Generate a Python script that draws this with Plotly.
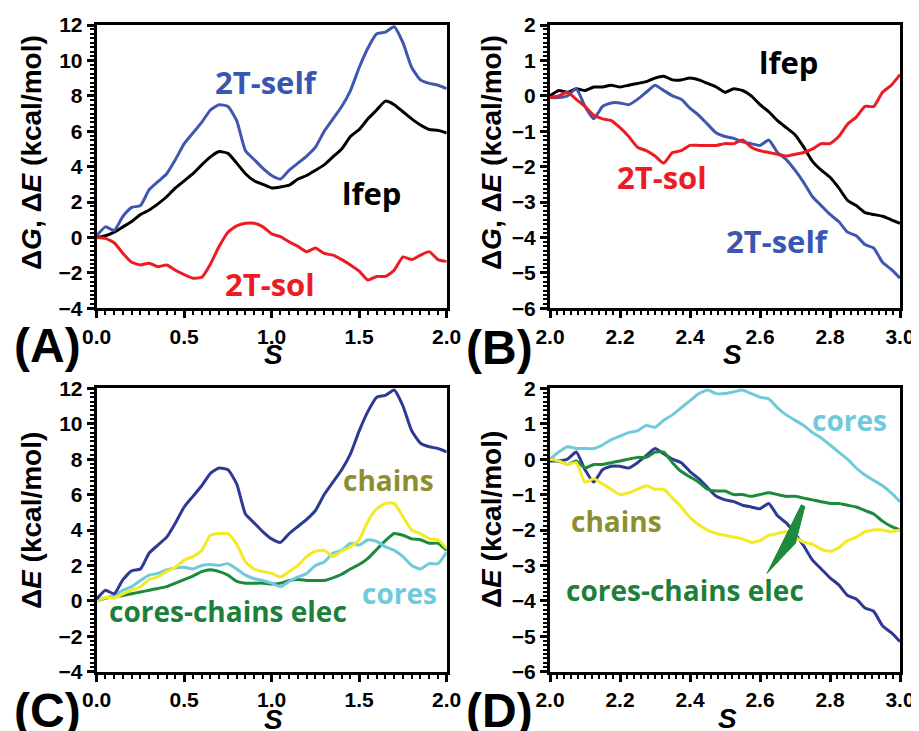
import plotly.graph_objects as go

# ---------------- data ----------------
s_A = [0.00, 0.05, 0.10, 0.15, 0.20, 0.25, 0.30, 0.35, 0.40, 0.45,
       0.50, 0.55, 0.60, 0.65, 0.70, 0.75, 0.80, 0.85, 0.90, 0.95,
       1.00, 1.05, 1.10, 1.15, 1.20, 1.25, 1.30, 1.35, 1.40, 1.45,
       1.50, 1.55, 1.60, 1.65, 1.70, 1.75, 1.80, 1.85, 1.90, 1.95, 2.00]
s_B = [2.000, 2.025, 2.050, 2.075, 2.100, 2.125, 2.150, 2.175, 2.200, 2.225,
       2.250, 2.275, 2.300, 2.325, 2.350, 2.375, 2.400, 2.425, 2.450, 2.475,
       2.500, 2.525, 2.550, 2.575, 2.600, 2.625, 2.650, 2.675, 2.700, 2.725,
       2.750, 2.775, 2.800, 2.825, 2.850, 2.875, 2.900, 2.925, 2.950, 2.975, 3.000]

# Panel A / C (S = 0..2)
self_A = [0.1, 0.6, 0.4, 1.2, 1.7, 1.8, 2.7, 3.15, 3.6, 4.4,
          5.3, 5.9, 6.5, 7.2, 7.5, 7.4, 6.6, 4.9, 4.4, 3.9,
          3.5, 3.3, 3.8, 4.2, 4.6, 5.1, 6.0, 6.7, 7.4, 8.3,
          9.6, 10.7, 11.5, 11.6, 11.9, 11.0, 9.6, 8.9, 8.7, 8.6, 8.4]
lfep_A = [0.0, 0.1, 0.3, 0.6, 0.9, 1.3, 1.55, 1.9, 2.3, 2.8,
          3.2, 3.6, 4.1, 4.55, 4.85, 4.75, 4.2, 3.6, 3.2, 3.0,
          2.8, 2.85, 2.95, 3.3, 3.5, 3.8, 4.1, 4.55, 5.0, 5.7,
          6.1, 6.7, 7.2, 7.7, 7.5, 7.1, 6.7, 6.35, 6.1, 6.05, 5.9]
sol_A = [0.0, -0.05, -0.3, -0.9, -1.4, -1.55, -1.45, -1.65, -1.55, -1.85,
         -2.1, -2.3, -2.25, -1.5, -0.5, 0.3, 0.65, 0.8, 0.8, 0.6,
         0.2, 0.05, -0.25, -0.5, -0.8, -0.6, -0.9, -1.0, -1.25, -1.55,
         -1.9, -2.4, -2.2, -2.2, -1.85, -1.1, -1.25, -1.0, -0.8, -1.25, -1.35]
chains_C = [0.0, 0.2, 0.15, 0.4, 0.6, 0.8, 1.2, 1.35, 1.65, 1.9,
            2.3, 2.5, 2.85, 3.7, 3.8, 3.8, 3.2, 2.2, 1.8, 1.65,
            1.55, 1.35, 1.65, 2.0, 2.5, 2.8, 2.85, 2.5, 2.8, 3.05,
            3.45, 4.5, 5.2, 5.5, 5.5, 4.75, 4.0, 3.8, 3.5, 3.45, 2.95]
cores_C = [0.0, 0.15, 0.3, 0.6, 0.8, 1.15, 1.45, 1.55, 1.75, 1.85,
           1.9, 1.8, 2.0, 2.05, 2.0, 2.1, 1.8, 1.45, 1.25, 1.15,
           1.0, 0.8, 1.1, 1.35, 1.55, 2.0, 2.2, 2.7, 2.85, 3.25,
           3.15, 3.45, 3.35, 3.05, 2.85, 2.5, 2.0, 1.8, 2.1, 2.1, 2.75]
elec_C = [0.0, 0.15, 0.25, 0.3, 0.4, 0.5, 0.6, 0.7, 0.8, 1.0,
          1.2, 1.4, 1.65, 1.75, 1.65, 1.45, 1.1, 1.0, 1.0, 1.0,
          0.95, 1.0, 1.15, 1.2, 1.15, 1.15, 1.15, 1.3, 1.5, 1.8,
          2.05, 2.4, 2.9, 3.4, 3.8, 3.7, 3.5, 3.45, 3.25, 3.25, 2.85]

# Panel B / D (S = 2..3)
self_B = [-0.05, -0.05, 0.0, 0.2, -0.3, -0.65, -0.3, -0.2, -0.2, -0.25,
          -0.1, 0.1, 0.3, 0.15, 0.0, -0.1, -0.35, -0.55, -0.8, -1.05,
          -1.15, -1.2, -1.3, -1.35, -1.4, -1.25, -1.6, -1.8, -2.1, -2.45,
          -2.85, -3.1, -3.35, -3.55, -3.85, -3.95, -4.2, -4.3, -4.7, -4.9, -5.15]
lfep_B = [0.0, 0.15, 0.1, 0.2, 0.15, 0.25, 0.25, 0.3, 0.25, 0.3,
          0.35, 0.4, 0.5, 0.55, 0.45, 0.45, 0.5, 0.45, 0.35, 0.25,
          0.1, 0.2, 0.15, 0.0, -0.25, -0.45, -0.7, -0.9, -1.1, -1.45,
          -1.85, -2.1, -2.3, -2.6, -2.95, -3.1, -3.3, -3.35, -3.4, -3.5, -3.6]
sol_B = [-0.05, 0.0, 0.1, -0.1, -0.3, -0.55, -0.65, -0.7, -0.9, -1.15,
         -1.45, -1.55, -1.7, -1.9, -1.6, -1.55, -1.4, -1.4, -1.4, -1.4,
         -1.35, -1.35, -1.25, -1.45, -1.55, -1.6, -1.65, -1.7, -1.65, -1.6,
         -1.5, -1.35, -1.35, -1.15, -0.8, -0.6, -0.3, -0.3, 0.1, 0.3, 0.6]
cores_D = [0.0, 0.2, 0.35, 0.3, 0.3, 0.3, 0.4, 0.55, 0.65, 0.75,
           0.8, 0.95, 0.9, 1.1, 1.25, 1.45, 1.65, 1.85, 1.95, 1.85,
           1.85, 1.9, 1.95, 1.85, 1.75, 1.7, 1.45, 1.25, 1.1, 0.95,
           0.75, 0.6, 0.4, 0.2, 0.0, -0.25, -0.45, -0.6, -0.75, -0.95, -1.2]
elec_D = [0.0, -0.05, -0.15, -0.05, -0.25, -0.15, -0.15, -0.1, -0.05, 0.0,
          0.05, 0.05, 0.2, 0.2, -0.1, -0.35, -0.5, -0.65, -0.85, -0.9,
          -0.9, -1.0, -1.0, -1.05, -1.0, -0.95, -1.0, -1.05, -1.05, -1.1,
          -1.15, -1.2, -1.25, -1.25, -1.3, -1.35, -1.45, -1.55, -1.75, -1.9, -2.0]
chains_D = [0.0, -0.05, -0.15, -0.1, -0.65, -0.55, -0.7, -0.85, -1.0, -0.95,
            -0.85, -0.75, -0.85, -0.85, -1.1, -1.35, -1.65, -1.85, -2.0, -2.1,
            -2.15, -2.2, -2.25, -2.35, -2.3, -2.15, -2.1, -2.05, -2.2, -2.35,
            -2.4, -2.55, -2.6, -2.5, -2.3, -2.2, -2.05, -2.0, -2.0, -2.05, -2.0]

# ---------------- styling ----------------
BLUE1 = '#3F57AE'
BLUE2 = '#2C3A93'
BLACK = '#000000'
RED = '#EC1C24'
YELLOW = '#F3E924'
CYAN = '#6FCBDC'
GREEN = '#1B8A3B'

# page body margin is 8 px: the figure is drawn 8 px in from the window edge
W, H, OFF = 911, 723, 8


def PX(px):
    return (px - OFF) / W


def PY(py):
    return 1 - (py - OFF) / H


fig = go.Figure()


def add(x, y, color, n):
    fig.add_trace(go.Scatter(x=x, y=y, mode='lines',
                             line=dict(color=color, width=3, shape='spline', smoothing=0.5),
                             xaxis='x' + ('' if n == 1 else str(n)),
                             yaxis='y' + ('' if n == 1 else str(n)),
                             showlegend=False, hoverinfo='skip'))


add(s_A, lfep_A, BLACK, 1)
add(s_A, sol_A, RED, 1)
add(s_A, self_A, BLUE1, 1)

add(s_B, lfep_B, BLACK, 2)
add(s_B, self_B, BLUE1, 2)
add(s_B, sol_B, RED, 2)

add(s_A, elec_C, GREEN, 3)
add(s_A, cores_C, CYAN, 3)
add(s_A, chains_C, YELLOW, 3)
add(s_A, self_A, BLUE2, 3)

add(s_B, cores_D, CYAN, 4)
add(s_B, self_B, BLUE2, 4)
add(s_B, elec_D, GREEN, 4)
add(s_B, chains_D, YELLOW, 4)

TICKFONT = dict(family='Liberation Sans, Arial', size=21, color='black', weight=700)


def axis(domain, rng, dtick, minor, anchor, fmt=None):
    d = dict(domain=domain, range=rng, dtick=dtick, tick0=rng[0],
             automargin=False,
             showline=True, linecolor='black', linewidth=3, mirror=True,
             ticks='outside', ticklen=7, tickwidth=2.5, tickcolor='black',
             showgrid=False, zeroline=False, tickfont=TICKFONT, anchor=anchor,
             minor=dict(ticks='outside', ticklen=4, tickwidth=1.5,
                        tickcolor='black', dtick=minor, showgrid=False))
    if fmt:
        d['tickformat'] = fmt
    return d


XL = [PX(96.7), PX(446.7)]
XR = [PX(550), PX(900)]
YT = [PY(308.3), PY(25)]
YB = [PY(671.7), PY(388.3)]

fig.update_layout(
    width=W, height=H,
    margin=dict(l=0, r=0, t=0, b=0, pad=0),
    paper_bgcolor='white', plot_bgcolor='white',
    xaxis=axis(XL, [0, 2], 0.5, 0.05, 'y', '.1f'),
    yaxis=axis(YT, [-4, 12], 2, 0.25, 'x'),
    xaxis2=axis(XR, [2, 3], 0.2, 0.02, 'y2', '.1f'),
    yaxis2=axis(YT, [-6, 2], 1, 0.125, 'x2'),
    xaxis3=axis(XL, [0, 2], 0.5, 0.05, 'y3', '.1f'),
    yaxis3=axis(YB, [-4, 12], 2, 0.25, 'x3'),
    xaxis4=axis(XR, [2, 3], 0.2, 0.02, 'y4', '.1f'),
    yaxis4=axis(YB, [-6, 2], 1, 0.125, 'x4'),
)

LBL = 'Open Sans'
ann = []


def label(text, x, y, n, color, size=28):
    ann.append(dict(text=text, x=x, y=y,
                    xref='x' + ('' if n == 1 else str(n)),
                    yref='y' + ('' if n == 1 else str(n)),
                    showarrow=False, xanchor='center', yanchor='middle',
                    font=dict(family=LBL, size=size, color=color, weight=700)))


label('2T-self', 0.97, 8.8, 1, '#3A55B3', 31)
label('lfep', 1.57, 2.5, 1, BLACK, 31)
label('2T-sol', 0.99, -2.6, 1, RED, 31)
label('lfep', 2.68, 0.96, 2, BLACK, 31)
label('2T-sol', 2.32, -2.28, 2, RED, 31)
label('2T-self', 2.65, -4.1, 2, '#3A55B3', 31)
label('chains', 1.67, 6.82, 3, '#8E8E2E')
label('cores', 1.73, 0.42, 3, CYAN)
label('cores-chains elec', 0.75, -0.6, 3, '#1D7F3C')
label('cores', 2.857, 1.11, 4, CYAN)
label('chains', 2.19, -1.74, 4, '#8E8E2E')
label('cores-chains elec', 2.386, -3.7, 4, '#1D7F3C')


def paper(text, px, py, size, angle=0, weight=700):
    ann.append(dict(text=text, x=PX(px), y=PY(py), xref='paper', yref='paper',
                    showarrow=False, xanchor='center', yanchor='middle',
                    textangle=angle,
                    font=dict(family='Liberation Sans, Arial', size=size,
                              color='black', weight=weight)))


ytitle_AB = 'Δ<i>G</i>, Δ<i>E</i> (kcal/mol)'
ytitle_CD = 'Δ<i>E</i> (kcal/mol)'
paper(ytitle_AB, 32, 153, 28, -90)
paper(ytitle_AB, 492, 153, 28, -90)
paper(ytitle_CD, 31, 521, 28, -90)
paper(ytitle_CD, 491, 520, 28, -90)

paper('<i>S</i>', 273, 354, 28)
paper('<i>S</i>', 732, 354, 28)
paper('<i>S</i>', 273, 719, 28)
paper('<i>S</i>', 727, 718, 28)

paper('(A)', 47, 345, 48)
paper('(B)', 500, 347, 48)
paper('(C)', 47, 710, 48)
paper('(D)', 500, 710, 48)

# slim spike arrow in panel D (decoration)
arrow_path = ('M 2.718,-1.29 L 2.728,-1.34 L 2.701,-2.377 '
              'L 2.620,-3.225 L 2.671,-2.219 Z')
fig.add_shape(type='path', path=arrow_path, xref='x4', yref='y4',
              fillcolor='#1D8A3C', line=dict(color='#1D8A3C', width=1))

fig.update_layout(annotations=ann)

fig.write_html('out.html')
